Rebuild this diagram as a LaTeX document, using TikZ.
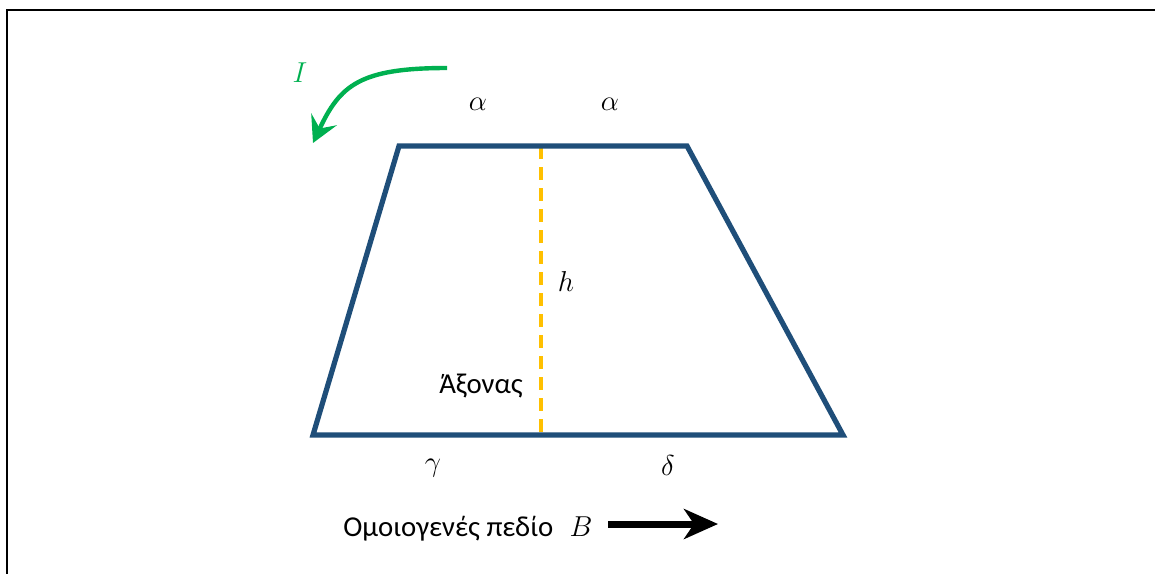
\documentclass[tikz,border=0pt]{standalone}
\usepackage{fontspec}
\setmainfont{Carlito}
\usetikzlibrary{arrows.meta}
\definecolor{edge}{HTML}{1F4E79}
\definecolor{axis}{HTML}{FFC000}
\definecolor{curr}{HTML}{00B050}

\begin{document}
\begin{tikzpicture}[x=0.5pt,y=-0.5pt,>=Latex,
side/.style={draw=edge,line width=2.6pt},
lbl/.style={font=\fontsize{14.4}{17}\selectfont,inner sep=0pt},
sym/.style={font=\fontsize{15}{18}\selectfont,inner sep=0pt}]
\useasboundingbox (0,0) rectangle (1155,574);
\draw[line width=1pt] (1155,10)--(7,10)--(7,574);
% trapezoid corners
\coordinate (tl) at (399,146);\coordinate (tr) at (687,146);
\coordinate (br) at (843,435);\coordinate (bl) at (313,435);
\coordinate (top) at (541,146);\coordinate (bot) at (541,435);
\draw[axis,line width=1.6pt,dash pattern=on 6.5pt off 4pt] (top)--(bot);
\draw[side,line join=miter] (bl)--(tl)--(tr)--(br)--cycle;
\node[sym] (a1) at (478,104) {$\alpha$};
\node[sym] (a2) at (610,104) {$\alpha$};
\node[sym] (h) at (566,281) {$h$};
\node[lbl] (ax) at (481,386) {Άξονας};
\node[sym] (g) at (433,468) {$\gamma$};
\node[sym] (d) at (668,465) {$\delta$};
% current
\coordinate (i0) at (447,68);\coordinate (i1) at (313,143);
\node[sym,text=curr] (I) at (300,73) {$I$};
\draw[curr,line width=2.2pt,-{Stealth[length=13pt,width=14pt,inset=5pt]}]
  (i0) .. controls (360,68) and (340,85) .. (i1);
% field
\node[lbl,anchor=west] (field) at (343,529) {Ομοιογενές πεδίο};
\node[sym] (B) at (581,527) {$B$};
\coordinate (b0) at (608,524);\coordinate (b1) at (718,524);
\draw[line width=3.5pt,-{Stealth[length=17pt,width=15pt,inset=5pt]}] (b0)--(b1);
\end{tikzpicture}
\end{document}
